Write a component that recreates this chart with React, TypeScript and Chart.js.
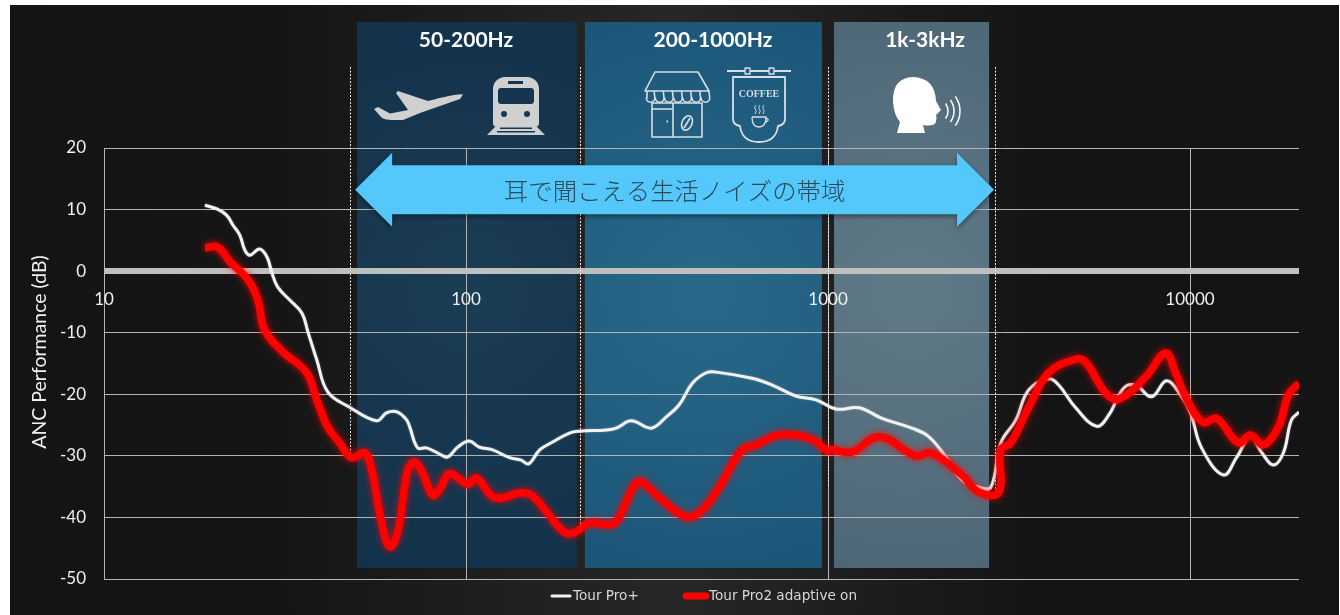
import React, { useEffect, useRef } from "react";
import { Chart, registerables } from "chart.js";

Chart.register(...registerables);

const whiteHz = [19,20.5,21.8,22.7,23.7,24.5,25.3,26.9,28.2,29.1,
30.2,32.6,35.2,36.6,38.7,41.5,47.7,56.6,60.4,64.7,
68.6,69.9,73.5,77.8,84.5,88.9,94.8,102,109,118,
132,142,149,160,173,193,206,244,260,286,
325,357,388,422,461,491,617,701,816,927,
1052,1218,1409,1705,1900,2116,2343,2610,2817,3001,
3301,3584,4071,4337,4833,5522,5959,6556,7075,7832,
8615,9416,10030,10760,12370,13440,14680,15750,16990,18110,
19050,20000];
const whiteDb = [10.7,10.1,9.1,7.5,5.9,3.4,2.6,3.6,2.3,-0.3,
-2.6,-4.7,-6.8,-9.9,-14.4,-19.6,-22.1,-24.3,-23.0,-22.9,
-24.2,-25.3,-28.7,-28.7,-29.7,-30.2,-28.6,-27.6,-28.6,-29.0,
-30.3,-30.7,-31.3,-29.0,-27.8,-26.3,-26.0,-25.8,-25.5,-24.3,
-25.5,-23.7,-21.7,-18.2,-16.5,-16.4,-17.4,-18.5,-20.3,-20.9,
-22.4,-22.2,-23.9,-25.5,-26.9,-30.2,-33.9,-35.1,-35.1,-27.9,
-24.2,-19.3,-17.5,-18.5,-22.2,-25.2,-23.4,-19.0,-18.5,-20.4,
-17.8,-20.1,-23.0,-28.7,-33.1,-30.3,-26.9,-29.4,-31.5,-29.5,
-24.2,-22.9];
const redHz = [19,20.6,22.3,25,26.6,27.8,31.2,36.3,38.7,41.5,
44.8,48.3,52.5,54.9,58.5,61.5,64.7,69,72.1,75.9,
80.9,84.5,90,101,107,120,142,152,167,187,
199,219,249,262,292,305,342,406,449,500,
579,633,733,903,994,1026,1165,1383,1749,1923,
2343,2610,2963,3001,3197,3584,4071,4833,5149,5847,
6351,7536,8560,9120,9906,10900,11830,13610,14680,15950,
17540,18700,20000];
const redDb = [3.8,3.9,1.5,-1.4,-4.7,-9.6,-13.1,-16.5,-20.9,-25.3,
-27.9,-30.3,-29.5,-32.3,-40.9,-44.8,-42.5,-32.3,-31.0,-32.8,
-36.4,-35.5,-32.9,-34.6,-33.6,-36.8,-36.0,-36.4,-39.1,-42.4,
-42.5,-40.9,-41.2,-40.4,-34.7,-34.2,-36.8,-39.9,-38.8,-35.1,
-29.0,-28.2,-26.6,-27.3,-29.2,-29.0,-29.4,-26.9,-30.0,-29.5,
-33.1,-35.9,-35.9,-29.0,-27.9,-22.1,-16.5,-14.3,-14.8,-19.8,
-20.8,-17.2,-13.3,-16.5,-21.4,-24.6,-23.9,-27.9,-26.6,-28.2,
-25.3,-20.1,-18.2];

const xTicks = [10, 100, 1000, 10000];
const seriesNames = ["Tour Pro+", "Tour Pro2 adaptive on"];
const bandLabels = ["50-200Hz", "200-1000Hz", "1k-3kHz"];
const bandLabelHz = [100, 481, 1854];
const bandFrom = [50, 213, 1039];
const bandTo = [202, 962, 2786];
const dottedHz = [47.8, 206, 1000, 2900];
const dottedEndDb = [-29.9, -41.5, -35, -37];
const arrowHz = [49.4, 2875];
const arrowDb = 13.2;
const arrowLabel = "耳で聞こえる生活ノイズの帯域";
const yAxisTitle = "ANC Performance (dB)";

const bandInner = ["#1a3c54", "#296788", "#5f7987"];
const bandOuter = ["#12314a", "#1a5578", "#4d6676"];

function plane(c: CanvasRenderingContext2D) {
  c.fillStyle = "#cfd0d0";
  c.beginPath();
  c.moveTo(463, 94.5);
  c.quadraticCurveTo(458, 93, 428, 101);
  c.lineTo(398, 91);
  c.lineTo(396, 93);
  c.lineTo(408, 110);
  c.lineTo(390, 113.5);
  c.lineTo(378, 107);
  c.lineTo(374, 109);
  c.lineTo(381, 117);
  c.quadraticCurveTo(384, 120, 392, 120);
  c.lineTo(403, 120);
  c.lineTo(420, 113);
  c.lineTo(460, 99);
  c.closePath();
  c.fill();
}

function train(c: CanvasRenderingContext2D) {
  c.fillStyle = "#cfd0d0";
  c.beginPath();
  c.roundRect(493, 77, 46, 50, [12, 12, 4, 4]);
  c.fill();
  c.beginPath();
  c.moveTo(497, 125);
  c.lineTo(535, 125);
  c.lineTo(545, 135);
  c.lineTo(487, 135);
  c.closePath();
  c.fill();
  c.fillStyle = "#163650";
  c.beginPath();
  c.roundRect(498, 88, 36, 16, 3);
  c.fill();
  c.fillRect(508, 81, 15, 3);
  c.beginPath();
  c.arc(504, 114, 3, 0, Math.PI * 2);
  c.arc(527, 114, 3, 0, Math.PI * 2);
  c.fill();
  c.fillRect(500, 127.5, 32, 1.5);
  c.fillRect(497, 131, 38, 1.5);
}

function shop(c: CanvasRenderingContext2D) {
  c.strokeStyle = "#d9dfe3";
  c.lineWidth = 1.6;
  c.lineJoin = "round";
  c.beginPath();
  c.moveTo(655, 72);
  c.lineTo(698, 72);
  c.lineTo(709, 91);
  c.lineTo(645, 91);
  c.closePath();
  c.stroke();
  const w = 64 / 7;
  c.beginPath();
  c.moveTo(647, 91);
  c.lineTo(647, 98);
  for (let i = 0; i < 7; i++) {
    c.arc(647 + w * (i + 0.5) - 1, 98, w / 2 - 0.3, Math.PI, 0, true);
    c.lineTo(647 + w * (i + 1) - 2, 91);
    c.moveTo(647 + w * (i + 1) - 2, 98);
  }
  c.stroke();
  c.strokeRect(652, 103, 50, 34);
  c.beginPath();
  c.moveTo(673, 103);
  c.lineTo(673, 137);
  c.moveTo(652, 109);
  c.lineTo(673, 109);
  c.stroke();
  c.fillStyle = "#d9dfe3";
  c.fillRect(666.5, 120.5, 1.5, 2);
  c.beginPath();
  c.ellipse(687, 123, 5, 7.5, 0.4, 0, Math.PI * 2);
  c.moveTo(684, 128);
  c.lineTo(690, 118);
  c.stroke();
}

function sign(c: CanvasRenderingContext2D) {
  c.strokeStyle = "#d9dfe3";
  c.fillStyle = "#d9dfe3";
  c.lineWidth = 1.8;
  c.beginPath();
  c.moveTo(727, 71);
  c.lineTo(791, 71);
  c.stroke();
  c.fillStyle = "#1f5f85";
  c.lineWidth = 1.3;
  c.fillRect(745, 68, 5, 6);
  c.strokeRect(745, 68, 5, 6);
  c.fillRect(769, 68, 5, 6);
  c.strokeRect(769, 68, 5, 6);
  c.lineWidth = 1.8;
  c.beginPath();
  c.moveTo(733, 77);
  c.lineTo(785, 77);
  c.lineTo(785, 120);
  c.quadraticCurveTo(784, 125, 778, 126);
  c.quadraticCurveTo(776, 142, 759, 142);
  c.quadraticCurveTo(742, 142, 740, 126);
  c.quadraticCurveTo(734, 125, 733, 120);
  c.closePath();
  c.stroke();
  c.fillStyle = "#d9dfe3";
  c.font = "bold 10px 'Liberation Serif'";
  c.textAlign = "center";
  c.textBaseline = "middle";
  c.fillText("COFFEE", 759, 94);
  c.lineWidth = 0.9;
  c.beginPath();
  [755, 759, 763].forEach((x) => {
    c.moveTo(x, 114);
    c.quadraticCurveTo(x + 2.5, 110.5, x, 108.5);
    c.quadraticCurveTo(x - 1, 107, x + 1, 105);
  });
  c.stroke();
  c.lineWidth = 1.3;
  c.beginPath();
  c.moveTo(752, 117);
  c.lineTo(766, 117);
  c.quadraticCurveTo(766, 127, 759, 127);
  c.quadraticCurveTo(752, 127, 752, 117);
  c.moveTo(766, 118.5);
  c.quadraticCurveTo(771, 119, 765, 123);
  c.stroke();
}

function head(c: CanvasRenderingContext2D) {
  c.fillStyle = "#ffffff";
  c.beginPath();
  c.moveTo(897, 133);
  c.lineTo(925, 133);
  c.lineTo(923, 125);
  c.quadraticCurveTo(934, 127, 936, 122);
  c.quadraticCurveTo(937, 118, 936, 115);
  c.lineTo(941, 110);
  c.lineTo(936, 101);
  c.quadraticCurveTo(935, 78, 913, 77);
  c.quadraticCurveTo(892, 78, 893, 102);
  c.quadraticCurveTo(894, 115, 900, 122);
  c.closePath();
  c.fill();
  c.strokeStyle = "#ffffff";
  c.lineWidth = 1.5;
  [13, 19, 25].forEach((r) => {
    c.beginPath();
    c.arc(935, 111, r, -0.62, 0.62);
    c.stroke();
  });
}

const backdrop = {
  id: "backdrop",
  beforeDraw(chart: any) {
    const c: CanvasRenderingContext2D = chart.ctx;
    const x = chart.scales.x;
    const g = c.createLinearGradient(10, 0, 1340, 0);
    g.addColorStop(0, "#141414");
    g.addColorStop(0.2, "#151515");
    g.addColorStop(0.5, "#272727");
    g.addColorStop(0.78, "#141414");
    g.addColorStop(1, "#141414");
    c.save();
    c.fillStyle = "#ffffff";
    c.fillRect(0, 0, 1340, 615);
    c.fillStyle = g;
    c.fillRect(10, 5, 1329, 610);
    bandFrom.forEach((hz, i) => {
      const l = x.getPixelForValue(hz);
      const r = x.getPixelForValue(bandTo[i]);
      const cx = (l + r) / 2;
      const rg = c.createRadialGradient(cx, 290, 20, cx, 290, 310);
      rg.addColorStop(0, bandInner[i]);
      rg.addColorStop(1, bandOuter[i]);
      c.fillStyle = rg;
      c.fillRect(l, 22, r - l, 546);
      c.fillStyle = "#ffffff";
      c.font = "bold 21px Lato";
      c.textAlign = "center";
      c.textBaseline = "middle";
      c.fillText(bandLabels[i], x.getPixelForValue(bandLabelHz[i]), 40);
    });
    plane(c);
    train(c);
    shop(c);
    sign(c);
    head(c);
    c.save();
    c.translate(40, 352);
    c.rotate(-Math.PI / 2);
    c.fillStyle = "#f0f0f0";
    c.font = "19.5px Lato";
    c.fillText(yAxisTitle, 0, 0);
    c.restore();
    c.restore();
  },
};

const overlay = {
  id: "overlay",
  beforeDatasetsDraw(chart: any) {
    const c: CanvasRenderingContext2D = chart.ctx;
    const x = chart.scales.x;
    const y = chart.scales.y;
    c.save();
    c.strokeStyle = "#e8e8e8";
    c.lineWidth = 1;
    c.setLineDash([2, 1.5]);
    dottedHz.forEach((hz, i) => {
      const px = Math.round(x.getPixelForValue(hz)) + 0.5;
      c.beginPath();
      c.moveTo(px, 67);
      c.lineTo(px, y.getPixelForValue(dottedEndDb[i]));
      c.stroke();
    });
    c.setLineDash([]);
    const l = x.getPixelForValue(arrowHz[0]);
    const r = x.getPixelForValue(arrowHz[1]);
    const mid = y.getPixelForValue(arrowDb);
    c.shadowColor = "rgba(0,0,0,0.45)";
    c.shadowBlur = 5;
    c.shadowOffsetY = 2;
    c.fillStyle = "#54c8fb";
    c.beginPath();
    c.moveTo(l, mid);
    c.lineTo(l + 37, mid - 37);
    c.lineTo(l + 37, mid - 24.5);
    c.lineTo(r - 37, mid - 24.5);
    c.lineTo(r - 37, mid - 37);
    c.lineTo(r, mid);
    c.lineTo(r - 37, mid + 37);
    c.lineTo(r - 37, mid + 24.5);
    c.lineTo(l + 37, mid + 24.5);
    c.lineTo(l + 37, mid + 37);
    c.closePath();
    c.fill();
    c.shadowColor = "transparent";
    c.fillStyle = "#2a4a5e";
    c.font = "300 24.4px 'Noto Sans CJK JP'";
    c.textAlign = "center";
    c.textBaseline = "middle";
    c.fillText(arrowLabel, (l + r) / 2, mid + 1);
    c.restore();
  },
  beforeDatasetDraw(chart: any, args: any) {
    const c: CanvasRenderingContext2D = chart.ctx;
    c.save();
    if (args.index === 1) {
      c.shadowColor = "rgba(255,0,0,0.85)";
      c.shadowBlur = 7;
    } else {
      c.shadowColor = "rgba(255,255,255,0.4)";
      c.shadowBlur = 2;
    }
  },
  afterDatasetDraw(chart: any) {
    chart.ctx.restore();
  },
  afterDraw(chart: any) {
    const c: CanvasRenderingContext2D = chart.ctx;
    c.save();
    c.font = "13.6px 'DejaVu Sans'";
    c.textAlign = "left";
    c.textBaseline = "middle";
    c.lineCap = "round";
    c.fillStyle = "#d8d8d8";
    c.strokeStyle = chart.data.datasets[0].borderColor;
    c.lineWidth = 3;
    c.beginPath();
    c.moveTo(552, 596);
    c.lineTo(570, 596);
    c.stroke();
    c.fillText(seriesNames[0], 573, 596);
    c.strokeStyle = chart.data.datasets[1].borderColor;
    c.lineWidth = 7;
    c.beginPath();
    c.moveTo(686, 596);
    c.lineTo(706, 596);
    c.stroke();
    c.fillText(seriesNames[1], 709, 596);
    c.restore();
  },
};

export default function App() {
  const ref = useRef<HTMLCanvasElement>(null);
  useEffect(() => {
    document.body.style.margin = "0";
    const chart = new Chart(ref.current!, {
      type: "line",
      data: {
        datasets: [
          {
            label: seriesNames[0],
            data: whiteHz.map((x, i) => ({ x, y: whiteDb[i] })),
            borderColor: "#f2f2f2",
            borderWidth: 3,
            pointRadius: 0,
            tension: 0.4,
            order: 2,
          },
          {
            label: seriesNames[1],
            data: redHz.map((x, i) => ({ x, y: redDb[i] })),
            borderColor: "#ff0000",
            borderWidth: 7.5,
            pointRadius: 0,
            tension: 0.4,
            order: 1,
          },
        ],
      },
      options: {
        animation: false,
        responsive: false,
        devicePixelRatio: 1,
        layout: { padding: { top: 148, bottom: 36, right: 41, left: 0 } },
        plugins: { legend: { display: false }, tooltip: { enabled: false } },
        scales: {
          x: {
            type: "logarithmic",
            min: 10,
            max: 20000,
            position: { y: 0 },
            afterBuildTicks: (s: any) => {
              s.ticks = xTicks.map((value) => ({ value }));
            },
            grid: { color: "#b4b4b4", lineWidth: 1, drawTicks: false },
            border: { display: false },
            ticks: {
              color: "#f0f0f0",
              font: { family: "Lato", size: 17 },
              padding: 18,
              maxRotation: 0,
              autoSkip: false,
              callback: (v: any) => String(v),
            },
          },
          y: {
            type: "linear",
            min: -50,
            max: 20,
            afterFit: (s: any) => {
              s.width = 104;
            },
            grid: {
              color: (ctx: any) => (ctx.tick && ctx.tick.value === 0 ? "#bfbfbf" : "#b4b4b4"),
              lineWidth: (ctx: any) => (ctx.tick && ctx.tick.value === 0 ? 6 : 1),
              drawTicks: false,
            },
            border: { display: false },
            ticks: {
              color: "#f0f0f0",
              font: { family: "Lato", size: 17 },
              padding: 18,
              stepSize: 10,
            },
          },
        },
      },
      plugins: [backdrop, overlay],
    } as any);
    return () => chart.destroy();
  }, []);
  return (
    <div style={{ position: "fixed", left: 0, top: 0, width: 1340, height: 615 }}>
      <canvas ref={ref} width={1340} height={615} style={{ display: "block" }} />
    </div>
  );
}
